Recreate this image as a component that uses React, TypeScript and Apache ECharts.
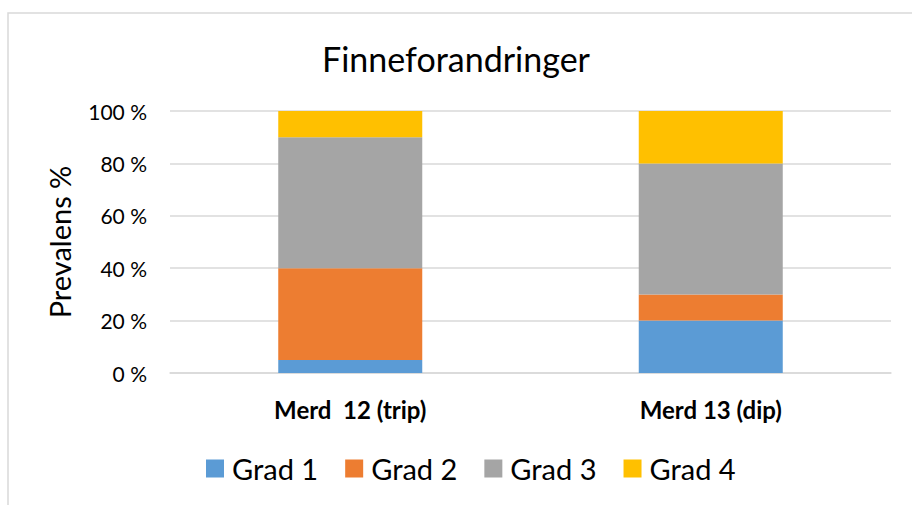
import React, { useEffect, useRef } from "react";
import * as echarts from "echarts";

const categories = ["Merd  12 (trip)", "Merd 13 (dip)"];
const seriesNames = ["Grad 1", "Grad 2", "Grad 3", "Grad 4"];
const grad1 = [5, 20];
const grad2 = [35, 10];
const grad3 = [50, 50];
const grad4 = [10, 20];
const colors = ["#5B9BD5", "#ED7D31", "#A5A5A5", "#FFC000"];

const FONT = "Lato, 'Open Sans', sans-serif";

export default function App() {
  const ref = useRef<HTMLDivElement>(null);
  useEffect(() => {
    if (!ref.current) return;
    const chart = echarts.init(ref.current, null, { renderer: "svg" });
    const values = [grad1, grad2, grad3, grad4];
    chart.setOption({
      animation: false,
      backgroundColor: "#FFFFFF",
      color: colors,
      textStyle: { fontFamily: FONT },
      graphic: [
        {
          type: "rect",
          shape: { x: 8, y: 13, width: 1000, height: 600 },
          style: { fill: "none", stroke: "#D9D9D9", lineWidth: 1.5 },
          silent: true,
        },
      ],
      title: {
        text: "Finneforandringer",
        left: "center",
        top: 36,
        textStyle: { fontFamily: FONT, fontSize: 34, fontWeight: "normal", color: "#000000" },
      },
      legend: {
        data: seriesNames,
        left: 201,
        top: 449,
        itemWidth: 18,
        itemHeight: 18,
        itemGap: 27,
        icon: "rect",
        textStyle: { fontFamily: FONT, fontSize: 29, color: "#000000", padding: [0, 0, 0, 3] },
      },
      grid: { left: 170, right: 21, top: 111, bottom: 132, containLabel: false },
      xAxis: {
        type: "category",
        data: categories,
        axisLine: { lineStyle: { color: "#D9D9D9", width: 1.5 } },
        axisTick: { show: false },
        axisLabel: {
          margin: 24,
          fontFamily: FONT,
          fontSize: 24,
          fontWeight: "bold",
          color: "#000000",
        },
      },
      yAxis: {
        type: "value",
        min: 0,
        max: 100,
        interval: 20,
        name: "Prevalens %",
        nameLocation: "middle",
        nameRotate: 90,
        nameGap: 96,
        nameTextStyle: { fontFamily: FONT, fontSize: 29, color: "#000000" },
        axisLine: { show: false },
        axisTick: { show: false },
        splitLine: { lineStyle: { color: "#D9D9D9", width: 1.5 } },
        axisLabel: {
          formatter: "{value} %",
          margin: 23,
          fontFamily: FONT,
          fontSize: 21,
          color: "#000000",
        },
      },
      series: seriesNames.map((name, i) => ({
        name,
        type: "bar",
        stack: "total",
        barWidth: 144,
        data: values[i],
        itemStyle: { color: colors[i] },
      })),
    });
    return () => chart.dispose();
  }, []);
  return (
    <div
      ref={ref}
      style={{ position: "fixed", left: 0, top: 0, width: 912, height: 505 }}
    />
  );
}
